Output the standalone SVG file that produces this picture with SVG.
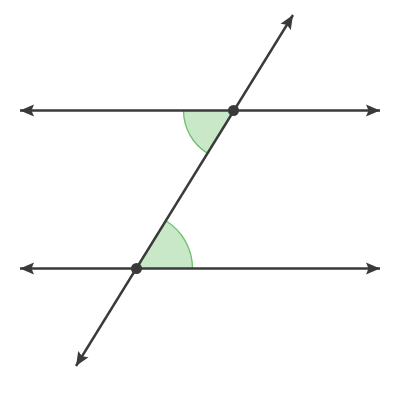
<svg xmlns="http://www.w3.org/2000/svg" width="400" height="400" viewBox="0 0 400 400">
  <style>
    .ln { stroke: #3a3a3a; stroke-width: 2.4; fill: none; marker-start: url(#ah); marker-end: url(#ah); }
    .wedge { fill: #c8e8c8; stroke: none; }
    .arc { fill: none; stroke: #6cc06c; stroke-width: 1.3; }
    .pt { fill: #3a3a3a; }
  </style>
  <defs>
    <marker id="ah" markerUnits="userSpaceOnUse" markerWidth="15" markerHeight="13" refX="14" refY="6" orient="auto-start-reverse" viewBox="0 0 15 12">
      <path d="M0,0 L14,6 L0,12 L2.5,6 Z" fill="#3a3a3a"/>
    </marker>
  </defs>
  <rect width="400" height="400" fill="#ffffff"/>
  <g id="angles">
    <path class="wedge" d="M233.5,110.5 L183.5,110.5 A50,50 0 0 0 207.3,153.1 Z"/>
    <path class="arc" d="M183.5,110.5 A50,50 0 0 0 207.3,153.1"/>
    <path class="wedge" d="M136.5,268.5 L192.5,268.5 A56,56 0 0 0 165.8,220.8 Z"/>
    <path class="arc" d="M192.5,268.5 A56,56 0 0 0 165.8,220.8"/>
  </g>
  <g id="connectors">
    <line class="ln" x1="20" y1="110.5" x2="380" y2="110.5"/>
    <line class="ln" x1="20" y1="268.5" x2="380" y2="268.5"/>
    <line class="ln" x1="76" y1="366" x2="293" y2="15"/>
  </g>
  <g id="node-top"><circle class="pt" cx="233.5" cy="110.5" r="5.5"/></g>
  <g id="node-bottom"><circle class="pt" cx="136.5" cy="268.5" r="5.5"/></g>
</svg>
